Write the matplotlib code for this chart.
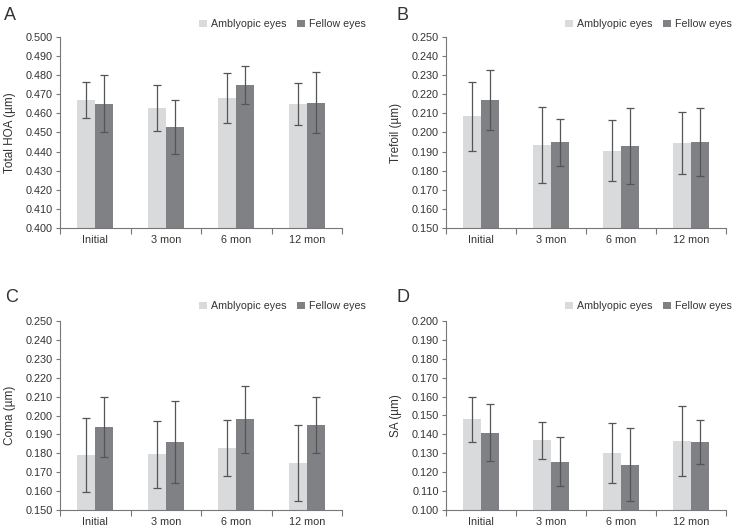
import matplotlib
matplotlib.use("Agg")
import matplotlib.pyplot as plt
import numpy as np
from matplotlib.patches import Patch

plt.rcParams['font.family'] = ['Liberation Sans', 'DejaVu Sans']

categories = ["Initial", "3 mon", "6 mon", "12 mon"]
series_names = ["Amblyopic eyes", "Fellow eyes"]

hoa_amb = [0.467, 0.463, 0.468, 0.465]
hoa_amb_err = [0.0095, 0.012, 0.013, 0.011]
hoa_fel = [0.465, 0.453, 0.475, 0.4655]
hoa_fel_err = [0.015, 0.014, 0.010, 0.016]

tre_amb = [0.2085, 0.1935, 0.1905, 0.1945]
tre_amb_err = [0.018, 0.0198, 0.016, 0.016]
tre_fel = [0.217, 0.195, 0.193, 0.195]
tre_fel_err = [0.0157, 0.0123, 0.020, 0.018]

coma_amb = [0.179, 0.1795, 0.183, 0.175]
coma_amb_err = [0.0195, 0.0178, 0.0148, 0.020]
coma_fel = [0.194, 0.186, 0.198, 0.195]
coma_fel_err = [0.016, 0.0216, 0.0178, 0.015]

sa_amb = [0.148, 0.137, 0.130, 0.1365]
sa_amb_err = [0.012, 0.0098, 0.0158, 0.0184]
sa_fel = [0.141, 0.1255, 0.124, 0.136]
sa_fel_err = [0.0149, 0.013, 0.0193, 0.0118]

panels = [
    ("A", "Total HOA (\u00b5m)", hoa_amb, hoa_amb_err, hoa_fel, hoa_fel_err, 0.400, 0.500),
    ("B", "Trefoil (\u00b5m)", tre_amb, tre_amb_err, tre_fel, tre_fel_err, 0.150, 0.250),
    ("C", "Coma (\u00b5m)", coma_amb, coma_amb_err, coma_fel, coma_fel_err, 0.150, 0.250),
    ("D", "SA (\u00b5m)", sa_amb, sa_amb_err, sa_fel, sa_fel_err, 0.100, 0.200),
]

W, H = 737, 526
fig = plt.figure(figsize=(W / 100, H / 100), dpi=100)

# axes rectangles in pixels: left, top, right, bottom
rects = [(60, 37, 342, 228), (446, 37, 726, 228), (60, 321, 342, 510), (446, 321, 726, 510)]
letter_pos = [(4, 15), (397, 15), (5, 298), (397, 298)]
legend_pos = [(366, 24), (732, 24), (366, 306), (732, 306)]

col_amb = "#d9dadb"
col_fel = "#808184"
err_col = "#555555"
txt_col = "#333333"
spine_col = "#777777"

x = np.arange(len(categories))
bw = 0.255

for (letter, ylabel, amb, amb_err, fel, fel_err, ymin, ymax), r, lp, lgp in zip(panels, rects, letter_pos, legend_pos):
    l, t, rr, b = r
    ax = fig.add_axes([l / W, 1 - b / H, (rr - l) / W, (b - t) / H])
    ax.bar(x - bw / 2, amb, bw, color=col_amb, zorder=2)
    ax.bar(x + bw / 2, fel, bw, color=col_fel, zorder=2)
    ax.errorbar(x - bw / 2, amb, yerr=amb_err, fmt='none', ecolor=err_col, elinewidth=0.9, capsize=3, capthick=0.9, zorder=3)
    ax.errorbar(x + bw / 2, fel, yerr=fel_err, fmt='none', ecolor=err_col, elinewidth=0.9, capsize=3, capthick=0.9, zorder=3)
    ax.set_xlim(-0.5, len(categories) - 0.5)
    ax.set_ylim(ymin, ymax)
    ax.set_yticks(np.linspace(ymin, ymax, 11))
    ax.set_yticklabels([f"{v:.3f}" for v in np.linspace(ymin, ymax, 11)])
    ax.set_xticks(np.arange(-0.5, len(categories), 1.0))
    ax.set_xticklabels([])
    ax.set_xticks(x, minor=True)
    ax.set_xticklabels(categories, minor=True)
    ax.tick_params(axis='x', which='minor', length=0, pad=5, labelsize=7.8, labelcolor=txt_col)
    ax.tick_params(axis='x', which='major', length=4, width=0.8, color=spine_col)
    ax.tick_params(axis='y', length=3, width=0.8, color=spine_col, labelsize=7.8, labelcolor=txt_col, pad=2)
    for s in ['top', 'right']:
        ax.spines[s].set_visible(False)
    for s in ['left', 'bottom']:
        ax.spines[s].set_color(spine_col)
        ax.spines[s].set_linewidth(0.8)
    ax.set_ylabel(ylabel, fontsize=8.5, color=txt_col, labelpad=7)
    fig.text(lp[0] / W, 1 - lp[1] / H, letter, fontsize=13, color=txt_col, va='center', ha='left')
    handles = [Patch(facecolor=col_amb, label=series_names[0]), Patch(facecolor=col_fel, label=series_names[1])]
    fig.legend(handles=handles, loc='center right', bbox_to_anchor=(lgp[0] / W, 1 - lgp[1] / H),
               ncol=2, frameon=False, fontsize=7.7, handlelength=0.7, handleheight=0.7,
               handletextpad=0.4, columnspacing=1.0, borderaxespad=0, borderpad=0,
               labelcolor=txt_col)

fig.savefig("out.png", dpi=100)
